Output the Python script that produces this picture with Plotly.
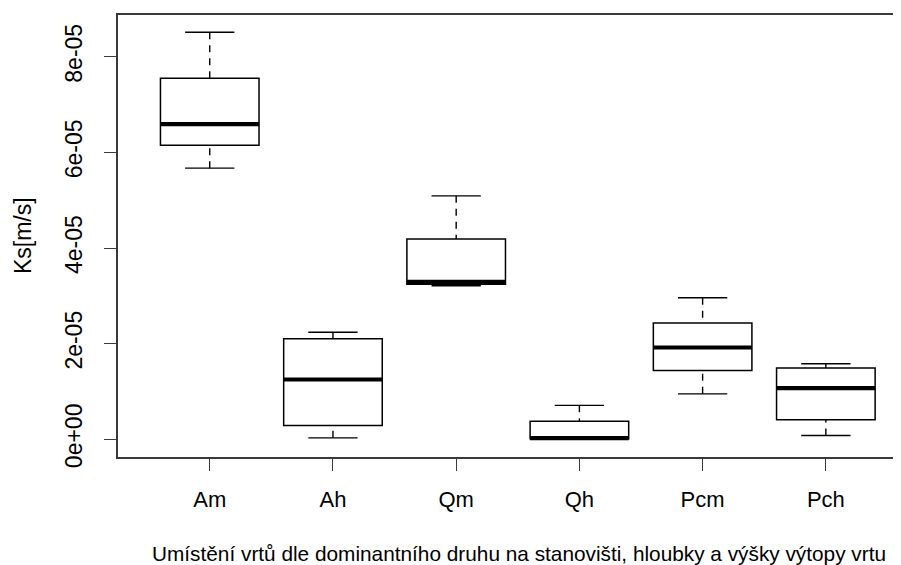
import plotly.graph_objects as go

categories = ["Am", "Ah", "Qm", "Qh", "Pcm", "Pch"]
lower_whisker = [5.67e-05, 0.03e-05, 3.21e-05, 0.0, 0.95e-05, 0.08e-05]
q1 = [6.15e-05, 0.29e-05, 3.24e-05, 0.01e-05, 1.44e-05, 0.41e-05]
median = [6.59e-05, 1.25e-05, 3.29e-05, 0.025e-05, 1.92e-05, 1.07e-05]
q3 = [7.55e-05, 2.10e-05, 4.19e-05, 0.38e-05, 2.43e-05, 1.49e-05]
upper_whisker = [8.51e-05, 2.24e-05, 5.09e-05, 0.71e-05, 2.96e-05, 1.58e-05]

y_tick_vals = [0, 2e-05, 4e-05, 6e-05, 8e-05]
y_tick_text = ["0e+00", "2e-05", "4e-05", "6e-05", "8e-05"]
y_title = "Ks[m/s]"
x_title = "Umístění vrtů dle dominantního druhu na stanovišti, hloubky a výšky výtopy vrtu"

FONT = "Liberation Sans, Arial, sans-serif"
AXC = "#3a3a3a"
positions = list(range(1, len(categories) + 1))
BOXW = 0.8
CAPW = 0.4

fig = go.Figure()

# dashed whiskers
wx, wy = [], []
for p, lo, a, b, hi in zip(positions, lower_whisker, q1, q3, upper_whisker):
    wx += [p, p, None, p, p, None]
    wy += [hi, b, None, lo, a, None]
fig.add_trace(go.Scatter(x=wx, y=wy, mode="lines", hoverinfo="skip",
                         line=dict(color="black", width=1.4, dash="7px,6px"), showlegend=False))

# boxes
fig.add_trace(go.Box(x=positions, q1=q1, median=median, q3=q3,
                     lowerfence=q1, upperfence=q3, width=BOXW, whiskerwidth=0,
                     fillcolor="white", line=dict(color="black", width=1.5),
                     boxpoints=False, showlegend=False))

# caps
cx, cy = [], []
for p, lo, hi in zip(positions, lower_whisker, upper_whisker):
    cx += [p - CAPW / 2, p + CAPW / 2, None, p - CAPW / 2, p + CAPW / 2, None]
    cy += [hi, hi, None, lo, lo, None]
fig.add_trace(go.Scatter(x=cx, y=cy, mode="lines", hoverinfo="skip",
                         line=dict(color="black", width=1.4), showlegend=False))

# thick medians
mx, my = [], []
for p, m in zip(positions, median):
    mx += [p - BOXW / 2, p + BOXW / 2, None]
    my += [m, m, None]
fig.add_trace(go.Scatter(x=mx, y=my, mode="lines", hoverinfo="skip",
                         line=dict(color="black", width=4.2), showlegend=False))

# page has an 8px body margin: figure coordinates = page coordinates - 8
OFF = 8
W, H = 901 - OFF, 565 - OFF
L, T = 117.5 - OFF, 15 - OFF
PB = 457 - OFF
B = H - PB
pw = W - L
ph = PB - T
UNIT = 123.3  # px per category step
x_lo = 0.2555
x_hi = x_lo + pw / UNIT

fig.update_layout(
    width=W, height=H,
    margin=dict(l=L, r=0, t=T, b=B, pad=0),
    paper_bgcolor="white", plot_bgcolor="white",
    font=dict(family=FONT, size=22, color="black"),
    showlegend=False,
    xaxis=dict(range=[x_lo, x_hi], tickvals=positions, ticktext=categories,
               ticks="outside", ticklen=12, tickwidth=1.4, tickcolor=AXC,
               showline=True, linecolor=AXC, linewidth=1.6, mirror=True,
               showgrid=False, zeroline=False, ticklabelstandoff=10,
               tickfont=dict(family=FONT, size=22, color="black")),
    yaxis=dict(range=[-0.370e-05, 8.872e-05], tickvals=y_tick_vals, ticktext=y_tick_text,
               tickangle=-90, ticks="outside", ticklen=12, tickwidth=1.4, tickcolor=AXC,
               showline=True, linecolor=AXC, linewidth=1.6, mirror=False,
               showgrid=False, zeroline=False, ticklabelstandoff=13,
               tickfont=dict(family=FONT, size=23, color="black")),
    annotations=[
        dict(text=y_title, textangle=-90, xref="paper", yref="paper",
             x=(22.5 - OFF - L) / pw, y=0.5, xanchor="center", yanchor="middle",
             showarrow=False, font=dict(family=FONT, size=23, color="black")),
        dict(text=x_title, xref="paper", yref="paper",
             x=(519 - OFF - L) / pw, y=(PB - (553 - OFF)) / ph, xanchor="center", yanchor="middle",
             showarrow=False, font=dict(family=FONT, size=20.8, color="black")),
    ],
)

fig.write_html("out.html", config={"displayModeBar": False})
